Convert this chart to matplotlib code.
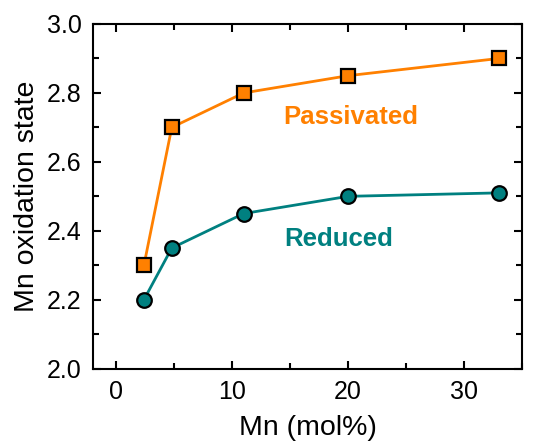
import matplotlib
matplotlib.use("Agg")
import matplotlib.pyplot as plt
from matplotlib.ticker import MultipleLocator

plt.rcParams['font.family'] = ['Liberation Sans', 'DejaVu Sans']

mn = [2.4, 4.8, 11.0, 20.0, 33.0]
passivated = [2.30, 2.70, 2.80, 2.85, 2.90]
reduced = [2.20, 2.35, 2.45, 2.50, 2.51]

orange = '#ff8000'
teal = '#008080'

fig = plt.figure(figsize=(5.34, 4.41), dpi=100)
ax = fig.add_axes([0.174, 0.164, 0.8035, 0.7816])

ax.plot(mn, passivated, '-s', color=orange, lw=2, ms=9.5,
        mfc=orange, mec='black', mew=1.6)
ax.plot(mn, reduced, '-o', color=teal, lw=2, ms=10.5,
        mfc=teal, mec='black', mew=1.6)

ax.text(20.2, 2.73, 'Passivated', color=orange, fontsize=18.5,
        fontweight='bold', ha='center', va='center')
ax.text(19.2, 2.376, 'Reduced', color=teal, fontsize=18.5,
        fontweight='bold', ha='center', va='center')

ax.set_xlim(-2, 35)
ax.set_ylim(2.0, 3.0)
ax.xaxis.set_major_locator(MultipleLocator(10))
ax.xaxis.set_minor_locator(MultipleLocator(5))
ax.yaxis.set_major_locator(MultipleLocator(0.2))
ax.yaxis.set_minor_locator(MultipleLocator(0.1))
ax.yaxis.set_major_formatter(plt.FormatStrFormatter('%.1f'))

ax.tick_params(which='both', direction='in', top=True, right=True,
               width=1.5, labelsize=18)
ax.tick_params(which='major', length=6, pad=8)
ax.tick_params(which='minor', length=4)
for s in ax.spines.values():
    s.set_linewidth(1.5)

ax.set_xlabel('Mn (mol%)', fontsize=20.5, labelpad=8)
ax.set_ylabel('Mn oxidation state', fontsize=20.5, labelpad=5)

fig.savefig('out.png', dpi=100)
